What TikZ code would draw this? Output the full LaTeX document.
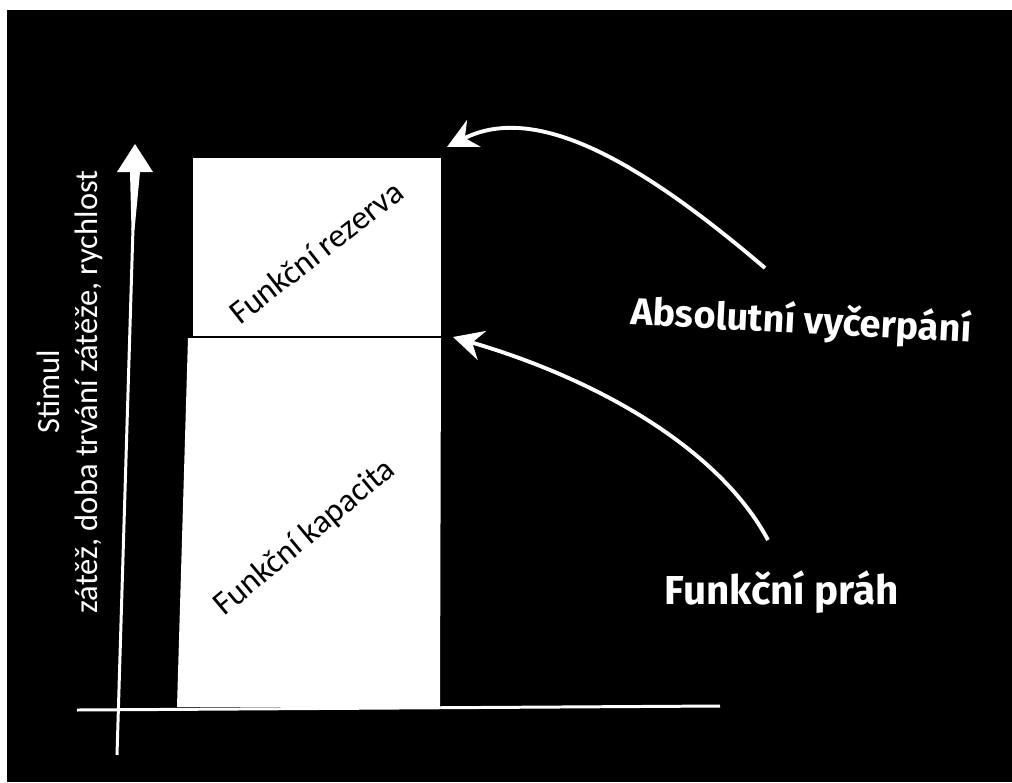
\documentclass[tikz,border=0pt]{standalone}
\usepackage{fontspec}
\usepackage{tikz}
\usetikzlibrary{arrows.meta,positioning,calc}
\setmainfont{Carlito}
\newfontfamily\handfont{Fira Sans}
\definecolor{board}{HTML}{000000}
\definecolor{chalk}{HTML}{FFFFFF}
\tikzset{
  axislabel/.style={text=chalk, align=center, font=\fontsize{18.5}{22}\selectfont, inner sep=0pt},
  boxlabel/.style={text=board, font=\fontsize{19}{22}\selectfont, inner sep=0pt},
  handlabel/.style={text=chalk, font=\handfont\bfseries\fontsize{21.5}{24}\selectfont, inner sep=0pt},
  axisline/.style={draw=chalk, line width=1.7pt},
  curvearr/.style={-{Stealth[length=6mm, width=6mm, inset=2mm]}, draw=chalk, line width=2.2pt}
}
\begin{document}
\begin{tikzpicture}[x=0.02cm, y=-0.02cm]
    \useasboundingbox (0,0) rectangle (1012,782);
    \fill[white] (0,0) rectangle (1012,782);
    \fill[board] (7,10) rectangle (1012,782);
    % blocks
    \fill[chalk] (177,707) -- (440,707) -- (441,338) -- (188,338) -- cycle;
    \fill[chalk] (193,336) -- (441,336) -- (441,158) -- (193,158) -- cycle;
    \draw[board, line width=1.2pt] (186,337) -- (442,337);
    \coordinate (rez-ne) at (447,147);
    \coordinate (cap-ne) at (453,337);
    \node[boxlabel, rotate=38] (rezerva) at (316,252) {Funkční rezerva};
    \node[boxlabel, rotate=40] (kapacita) at (305,538) {Funkční kapacita};
    % axes
    \coordinate (origin) at (117,755);
    \coordinate (top) at (133,228);
    \draw[axisline] (77,710) -- (720,706);
    \draw[axisline] (origin) -- (top);
    \fill[chalk] (131.5,230) -- (130,172) -- (117,172) -- (135,144) -- (153,172)
      -- (140,172) -- (134.5,230) -- cycle;
    \node[axislabel, rotate=90] (stimul) at (70,392) {Stimul\\zátěž, doba trvání zátěže, rychlost};
    % labels and arrows
    \node[handlabel, rotate=-3] (absolut) at (801,322) {Absolutní vyčerpání};
    \node[handlabel, font=\handfont\bfseries\fontsize{23}{26}\selectfont] (prah) at (782,592) {Funkční práh};
    \coordinate (abs-tail) at (765,268);
    \coordinate (prah-tail) at (768,540);
    \draw[curvearr] (abs-tail) .. controls (650,170) and (540,100) .. (rez-ne);
    \draw[curvearr] (prah-tail) .. controls (720,450) and (600,380) .. (cap-ne);
\end{tikzpicture}
\end{document}
